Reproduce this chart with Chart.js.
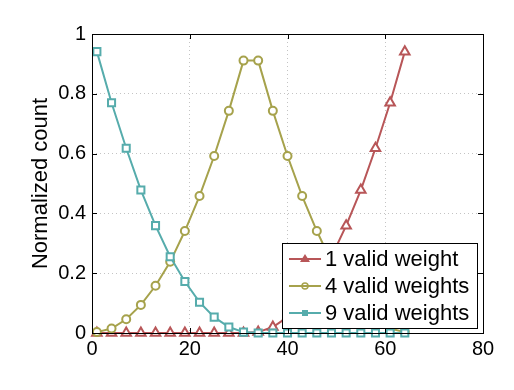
<!DOCTYPE html>
<html>
<head>
<meta charset="utf-8">
<script src="https://cdn.jsdelivr.net/npm/chart.js@4/dist/chart.umd.min.js"></script>
<style>
  html, body { margin: 0; padding: 0; background: #fff; }
  #wrap { width: 514px; height: 390px; }
</style>
</head>
<body>
<div id="wrap"><canvas id="myChart" width="514" height="390"></canvas></div>
<script>
  // data
  var xVals = [1, 4, 7, 10, 13, 16, 19, 22, 25, 28, 31, 34, 37, 40, 43, 46, 49, 52, 55, 58, 61, 64];
  var oneWeight = [0, 0, 0, 0, 0, 0, 0, 0, 0, 0, 0,
                   0.003, 0.02, 0.053, 0.103, 0.172, 0.255, 0.359, 0.478, 0.618, 0.77, 0.941];
  var fourWeights = [0.003, 0.015, 0.046, 0.094, 0.158, 0.238, 0.341, 0.458, 0.592, 0.743, 0.911,
                     0.911, 0.743, 0.592, 0.458, 0.341, 0.238, 0.158, 0.094, 0.046, 0.015, 0.003];
  var nineWeights = [0.941, 0.77, 0.618, 0.478, 0.359, 0.255, 0.172, 0.103, 0.053, 0.02, 0.003,
                     0, 0, 0, 0, 0, 0, 0, 0, 0, 0, 0];
  var seriesNames = ['1 valid weight', '4 valid weights', '9 valid weights'];
  var xTicks = [0, 20, 40, 60, 80];
  var yTicks = [0, 0.2, 0.4, 0.6, 0.8, 1];

  var red = 'rgb(184,86,88)';
  var olive = 'rgb(166,162,76)';
  var teal = 'rgb(86,172,172)';

  function pts(ys) {
    return xVals.map(function (x, i) { return {x: x, y: ys[i]}; });
  }

  function series(label, ys, color, style, radius, order) {
    return {
      label: label, data: pts(ys),
      borderColor: color, backgroundColor: color,
      borderWidth: 2, pointStyle: style, pointRadius: radius,
      pointBorderWidth: 2, pointBackgroundColor: '#fff', pointBorderColor: color,
      tension: 0, clip: false, order: order
    };
  }

  // frame, inward tick marks and the boxed legend inside the plot
  var framePlugin = {
    id: 'frame',
    afterDraw: function (chart) {
      var ctx = chart.ctx;
      var a = chart.chartArea;
      var sx = chart.scales.x, sy = chart.scales.y;
      ctx.save();
      ctx.strokeStyle = '#000';
      ctx.lineWidth = 1;
      ctx.strokeRect(a.left + 0.5, a.top + 0.5, a.right - a.left, a.bottom - a.top);
      ctx.beginPath();
      xTicks.forEach(function (t) {
        var px = Math.round(sx.getPixelForValue(t)) + 0.5;
        ctx.moveTo(px, a.bottom); ctx.lineTo(px, a.bottom - 5);
        ctx.moveTo(px, a.top); ctx.lineTo(px, a.top + 5);
      });
      yTicks.forEach(function (t) {
        var py = Math.round(sy.getPixelForValue(t)) + 0.5;
        ctx.moveTo(a.left, py); ctx.lineTo(a.left + 5, py);
        ctx.moveTo(a.right, py); ctx.lineTo(a.right - 5, py);
      });
      ctx.stroke();

      // legend
      var bw = 195, bh = 85;
      var bx = a.right - 6 - bw, by = a.bottom - 5 - bh;
      ctx.fillStyle = '#fff';
      ctx.fillRect(bx, by, bw, bh);
      ctx.strokeRect(bx + 0.5, by + 0.5, bw, bh);
      ctx.font = '22px "Liberation Sans", Arial, sans-serif';
      ctx.textBaseline = 'middle';
      chart.data.datasets.forEach(function (ds, i) {
        var cy = by + 16 + i * 27;
        ctx.strokeStyle = ds.borderColor;
        ctx.lineWidth = 2;
        ctx.beginPath();
        ctx.moveTo(bx + 7, cy); ctx.lineTo(bx + 39, cy);
        ctx.stroke();
        ctx.fillStyle = ds.borderColor;
        ctx.beginPath();
        if (ds.pointStyle === 'triangle') {
          ctx.moveTo(bx + 23, cy - 5); ctx.lineTo(bx + 28, cy + 3); ctx.lineTo(bx + 18, cy + 3);
          ctx.closePath(); ctx.fill();
        } else if (ds.pointStyle === 'circle') {
          ctx.arc(bx + 23, cy, 3, 0, Math.PI * 2);
          ctx.lineWidth = 1.5; ctx.stroke();
        } else {
          ctx.fillRect(bx + 20, cy - 3, 6, 6);
        }
        ctx.fillStyle = '#000';
        ctx.fillText(ds.label, bx + 43, cy + 1);
      });
      ctx.restore();
    }
  };

  function plainLabel(v) { return String(Math.round(v * 10) / 10); }

  var chart = new Chart(document.getElementById('myChart'), {
    type: 'line',
    data: {
      datasets: [
        series(seriesNames[0], oneWeight, red, 'triangle', 5.5, 2),
        series(seriesNames[1], fourWeights, olive, 'circle', 4, 1),
        series(seriesNames[2], nineWeights, teal, 'rect', 5, 0)
      ]
    },
    options: {
      responsive: false,
      animation: false,
      layout: { padding: { left: 0, top: 34, right: 31, bottom: 0 } },
      plugins: { legend: { display: false }, tooltip: { enabled: false } },
      scales: {
        x: {
          type: 'linear', min: 0, max: 80,
          afterFit: function (s) { s.height = 57; },
          afterBuildTicks: function (s) { s.ticks = xTicks.map(function (v) { return {value: v}; }); },
          ticks: { color: '#000', padding: 4, maxRotation: 0, callback: plainLabel,
                   font: { family: '"Liberation Sans", Arial, sans-serif', size: 20 } },
          grid: { color: '#c4c4c4', drawTicks: false, lineWidth: 1 },
          border: { display: false, dash: [1, 3] }
        },
        y: {
          min: 0, max: 1,
          afterFit: function (s) { s.width = 92; },
          afterBuildTicks: function (s) { s.ticks = yTicks.map(function (v) { return {value: v}; }); },
          ticks: { color: '#000', padding: 6, callback: plainLabel,
                   font: { family: '"Liberation Sans", Arial, sans-serif', size: 20 } },
          grid: { color: '#c4c4c4', drawTicks: false, lineWidth: 1 },
          border: { display: false, dash: [1, 3] },
          title: { display: true, text: 'Normalized count', color: '#000',
                   padding: { top: 28, bottom: 0 },
                   font: { family: '"Liberation Sans", Arial, sans-serif', size: 22 } }
        }
      }
    },
    plugins: [framePlugin]
  });
</script>
</body>
</html>
